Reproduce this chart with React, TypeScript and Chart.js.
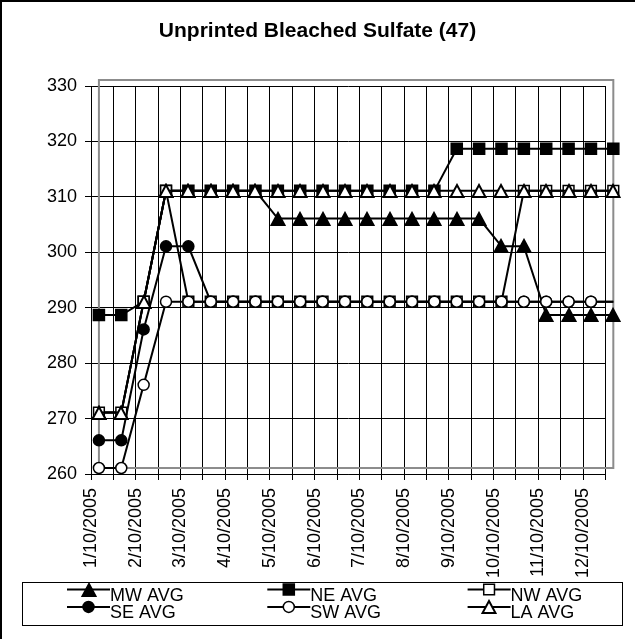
import React, { useEffect, useRef } from 'react';
import { Chart, registerables } from 'chart.js';

Chart.register(...registerables);

// ---- data ----
const monthLabels = [
  '1/10/2005', '2/10/2005', '3/10/2005', '4/10/2005', '5/10/2005', '6/10/2005',
  '7/10/2005', '8/10/2005', '9/10/2005', '10/10/2005', '11/10/2005', '12/10/2005',
];
const seriesNames = ['MW AVG', 'NE AVG', 'NW AVG', 'SE AVG', 'SW AVG', 'LA AVG'];
const mwAvg = [270, 270, 290, 310, 310, 310, 310, 310, 305, 305, 305, 305, 305, 305, 305, 305, 305, 305, 300, 300, 287.6, 287.6, 287.6, 287.6];
const neAvg = [287.6, 287.6, 290, 310, 310, 310, 310, 310, 310, 310, 310, 310, 310, 310, 310, 310, 317.6, 317.6, 317.6, 317.6, 317.6, 317.6, 317.6, 317.6];
const nwAvg = [270, 270, 290, 310, 290, 290, 290, 290, 290, 290, 290, 290, 290, 290, 290, 290, 290, 290, 290, 310, 310, 310, 310, 310];
const seAvg = [265, 265, 285, 300, 300, 290, 290, 290, 290, 290, 290, 290, 290, 290, 290, 290, 290, 290, 290, 290, 290, 290, 290, 290];
const swAvg = [260, 260, 275, 290, 290, 290, 290, 290, 290, 290, 290, 290, 290, 290, 290, 290, 290, 290, 290, 290, 290, 290, 290, 290];
const laAvg = [270, 270, 290, 310, 310, 310, 310, 310, 310, 310, 310, 310, 310, 310, 310, 310, 310, 310, 310, 310, 310, 310, 310, 310];

const Y_MIN = 260;
const Y_MAX = 330;
const Y_STEP = 10;
const TITLE = 'Unprinted Bleached Sulfate (47)';

const FONT = 'Arial, "Liberation Sans", sans-serif';

function makeTriangle(fill: string): HTMLCanvasElement {
  const c = document.createElement('canvas');
  c.width = 16;
  c.height = 16;
  const ctx = c.getContext('2d')!;
  ctx.beginPath();
  ctx.moveTo(8, 2);
  ctx.lineTo(14.5, 14);
  ctx.lineTo(1.5, 14);
  ctx.closePath();
  ctx.fillStyle = fill;
  ctx.fill();
  ctx.strokeStyle = '#000';
  ctx.lineWidth = 2;
  ctx.lineJoin = 'miter';
  ctx.stroke();
  return c;
}

function drawMarker(ctx: CanvasRenderingContext2D, ds: any, x: number, y: number) {
  const ps = ds.pointStyle;
  if (ps instanceof HTMLCanvasElement) {
    ctx.drawImage(ps, Math.round(x - ps.width / 2), Math.round(y - ps.height / 2));
    return;
  }
  ctx.beginPath();
  if (ps === 'rect') {
    const s = ds.pointRadius * Math.SQRT1_2;
    ctx.rect(x - s, y - s, 2 * s, 2 * s);
  } else {
    ctx.arc(x, y, ds.pointRadius, 0, Math.PI * 2);
  }
  ctx.fillStyle = ds.pointBackgroundColor;
  ctx.fill();
  ctx.lineWidth = ds.pointBorderWidth;
  ctx.strokeStyle = ds.pointBorderColor;
  ctx.stroke();
}

const frameAndLegend = {
  id: 'frameAndLegend',
  beforeDatasetsDraw(chart: any) {
    const { ctx } = chart;
    const xs = chart.scales.x2;
    const ys = chart.scales.y2;
    const n = mwAvg.length - 1;
    const l = xs.getPixelForValue(0);
    const r = xs.getPixelForValue(n);
    const t = ys.getPixelForValue(Y_MAX);
    const b = ys.getPixelForValue(Y_MIN);
    ctx.save();
    ctx.strokeStyle = '#8c8c8c';
    ctx.lineWidth = 2;
    ctx.strokeRect(l, t, r - l, b - t);
    ctx.restore();
    ctx.imageSmoothingEnabled = false;
  },
  afterDatasetsDraw(chart: any) {
    chart.ctx.imageSmoothingEnabled = true;
  },
  afterDraw(chart: any) {
    const { ctx, width, height } = chart;
    ctx.save();
    // outer chart border (left + top visible)
    ctx.fillStyle = '#000';
    ctx.fillRect(0, 0, 2, height);
    ctx.fillRect(0, 0, width, 2);
    // legend box
    ctx.strokeStyle = '#000';
    ctx.lineWidth = 1;
    ctx.strokeRect(22.5, 582.5, 600, 43);
    ctx.imageSmoothingEnabled = false;
    chart.data.datasets.forEach((ds: any, i: number) => {
      const col = i % 3;
      const row = Math.floor(i / 3);
      const lx = 67 + col * 200.3;
      const ly = 589.5 + row * 17.4;
      ctx.beginPath();
      ctx.moveTo(lx, ly);
      ctx.lineTo(lx + 43, ly);
      ctx.lineWidth = 2;
      ctx.strokeStyle = '#000';
      ctx.stroke();
      drawMarker(ctx, ds, lx + 21.5, ly);
      ctx.fillStyle = '#000';
      ctx.font = `18px ${FONT}`;
      ctx.textBaseline = 'middle';
      ctx.textAlign = 'left';
      ctx.fillText(ds.label, lx + 43, ly + 6.5);
    });
    ctx.restore();
  },
};

const toPoints = (vals: number[]) => vals.map((v, i) => ({ x: i, y: v }));

export default function App() {
  const ref = useRef<HTMLCanvasElement | null>(null);

  useEffect(() => {
    if (!ref.current) return;
    const triBlack = makeTriangle('#000');
    const triWhite = makeTriangle('#fff');
    const common = {
      borderColor: '#000',
      borderWidth: 2,
      pointBorderColor: '#000',
      pointBorderWidth: 1.5,
      tension: 0,
      fill: false,
      clip: false as any,
      xAxisID: 'x2',
      yAxisID: 'y2',
    };
    const datasets: any[] = [
      { ...common, label: seriesNames[0], data: toPoints(mwAvg), pointStyle: triBlack, pointRadius: 7, pointBackgroundColor: '#000', order: 5 },
      { ...common, label: seriesNames[1], data: toPoints(neAvg), pointStyle: 'rect', pointRadius: 7.8, pointBackgroundColor: '#000', order: 4 },
      { ...common, label: seriesNames[2], data: toPoints(nwAvg), pointStyle: 'rect', pointRadius: 7.6, pointBackgroundColor: '#fff', order: 3 },
      { ...common, label: seriesNames[3], data: toPoints(seAvg), pointStyle: 'circle', pointRadius: 5.5, pointBackgroundColor: '#000', order: 2 },
      { ...common, label: seriesNames[4], data: toPoints(swAvg), pointStyle: 'circle', pointRadius: 5.5, pointBackgroundColor: '#fff', order: 1 },
      { ...common, label: seriesNames[5], data: toPoints(laAvg), pointStyle: triWhite, pointRadius: 7, pointBackgroundColor: '#fff', order: 0 },
    ];
    const nMain = monthLabels.length * 2 - 1;
    const xShift = 0.354;
    const yShift = 1.08;
    const tickFont = { family: FONT, size: 18 };

    const chart = new Chart(ref.current, {
      type: 'line',
      data: { datasets },
      options: {
        responsive: false,
        animation: false,
        layout: { padding: 0 },
        plugins: {
          legend: { display: false },
          tooltip: { enabled: false },
          title: {
            display: true,
            text: TITLE,
            color: '#000',
            font: { family: FONT, size: 21, weight: 'bold' },
            padding: { top: 18.5, bottom: 42.3 },
          },
        },
        scales: {
          x: {
            type: 'linear',
            position: 'bottom',
            min: 0,
            max: nMain,
            afterFit: (s: any) => { s.height = 165; },
            ticks: {
              stepSize: 1,
              autoSkip: false,
              minRotation: 90,
              maxRotation: 90,
              padding: 8,
              color: '#000',
              font: tickFont,
              callback: (v: any) => (Number.isInteger(v) && v % 2 === 0 ? monthLabels[v / 2] : ''),
            },
            grid: { color: '#000', lineWidth: 1, tickLength: 6, drawTicks: true },
            border: { color: '#000', width: 1 },
          },
          y: {
            type: 'linear',
            position: 'left',
            min: Y_MIN,
            max: Y_MAX,
            afterFit: (s: any) => { s.width = 91; },
            ticks: { stepSize: Y_STEP, padding: 8, color: '#000', font: tickFont },
            grid: { color: '#000', lineWidth: 1, tickLength: 6, drawTicks: true },
            border: { color: '#000', width: 1 },
          },
          x2: {
            type: 'linear',
            position: 'bottom',
            display: false,
            min: -xShift,
            max: nMain - xShift,
          },
          y2: {
            type: 'linear',
            position: 'right',
            min: Y_MIN - yShift,
            max: Y_MAX - yShift,
            afterFit: (s: any) => { s.width = 25; },
            ticks: { display: false },
            grid: { display: false },
            border: { display: false },
          },
        },
      } as any,
      plugins: [frameAndLegend],
    });
    return () => chart.destroy();
  }, []);

  return (
    <div style={{ position: 'fixed', left: 0, top: 0, width: 635, height: 639, background: '#fff' }}>
      <canvas ref={ref} width={635} height={639} />
    </div>
  );
}
